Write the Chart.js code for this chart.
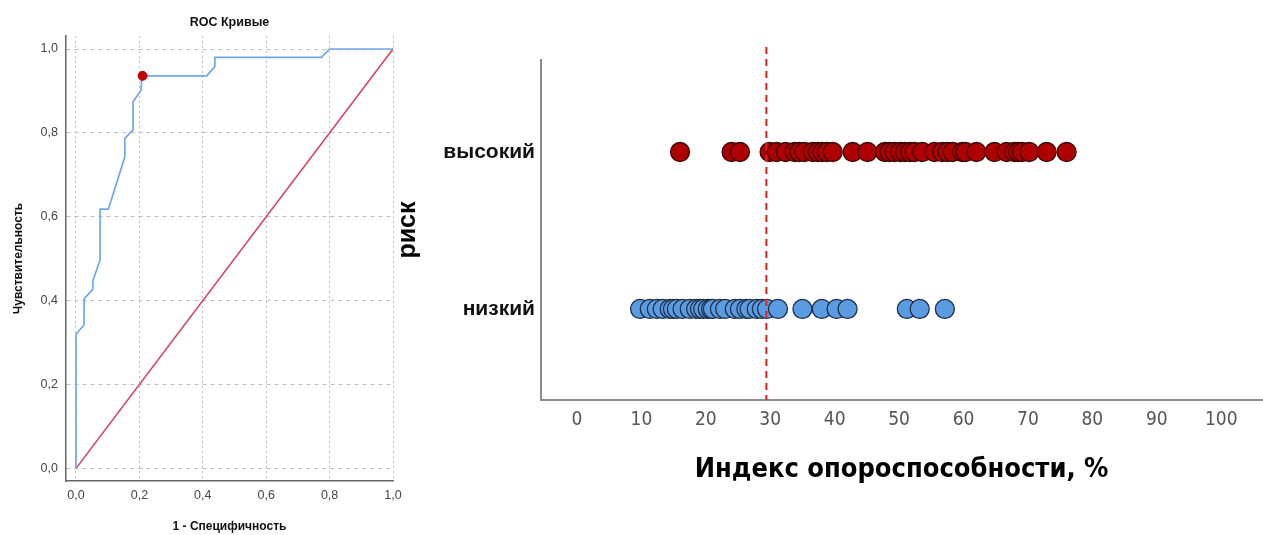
<!DOCTYPE html>
<html lang="ru">
<head>
<meta charset="utf-8">
<title>ROC и индекс опороспособности</title>
<script src="https://cdn.jsdelivr.net/npm/chart.js@4.4.1/dist/chart.umd.min.js"></script>
<style>
  html, body { margin: 0; padding: 0; background: #fff; }
  #wrap { position: relative; width: 1263px; height: 535px; overflow: hidden; }
  #rocBox { position: absolute; left: 0; top: 0; width: 410px; height: 535px; }
  #dotBox { position: absolute; left: 385px; top: 0; width: 888px; height: 535px; }
</style>
</head>
<body>
<div id="wrap">
  <div id="rocBox"><canvas id="rocChart"></canvas></div>
  <div id="dotBox"><canvas id="dotChart"></canvas></div>
</div>
<script>
// ---------- ROC data ----------
const ROC_FPR = [0, 0, 0.025, 0.026, 0.053, 0.053, 0.076, 0.076, 0.102, 0.128, 0.154, 0.154, 0.18, 0.18, 0.205, 0.208, 0.412, 0.438, 0.438, 0.774, 0.80, 1.0];
const ROC_TPR = [0, 0.320, 0.342, 0.405, 0.427, 0.447, 0.497, 0.618, 0.618, 0.680, 0.743, 0.787, 0.807, 0.874, 0.902, 0.936, 0.936, 0.958, 0.980, 0.980, 1.0, 1.0];
const DIAG_X = [0, 1];
const DIAG_Y = [0, 1];
const CUT_FPR = [0.21];
const CUT_TPR = [0.936];
const ROC_TICKS = [0, 0.2, 0.4, 0.6, 0.8, 1.0];

// ---------- dot plot data ----------
const RISK_LABELS = ["низкий", "высокий"];   // y = 1, y = 2
const HIGH_RISK = [16.0, 24.0, 25.3, 29.9, 31.0, 32.4, 33.8, 34.5, 35.3, 36.6, 37.4, 38.1, 38.8, 39.7,
  42.8, 45.1, 47.8, 48.5, 49.3, 50.2, 50.9, 51.7, 52.4, 53.6, 55.5, 56.7, 57.5, 58.3, 59.8, 60.3,
  62.0, 64.8, 66.7, 67.9, 68.5, 69.1, 70.2, 72.9, 76.0];
const LOW_RISK = [9.8, 11.3, 12.4, 13.3, 14.4, 14.9, 15.5, 16.4, 17.5, 18.5, 19.1, 19.6, 20.3, 20.8,
  21.1, 22.2, 23.0, 24.5, 25.3, 26.3, 26.8, 27.9, 28.7, 29.5, 31.2, 35.0, 38.0, 40.3, 42.0,
  51.2, 53.2, 57.1];
const X_TICKS = [0, 10, 20, 30, 40, 50, 60, 70, 80, 90, 100];
const CUTOFF = 29.4;

const SANS = "'Liberation Sans', Arial, sans-serif";
const NARROW = "'Liberation Sans Narrow', 'DejaVu Sans Condensed', 'Liberation Sans', sans-serif";
const comma = (v) => Number(v).toFixed(1).replace(".", ",");

// ---------- left: ROC curve ----------
new Chart(document.getElementById("rocChart"), {
  type: "scatter",
  data: {
    datasets: [
      { label: "cut", data: CUT_FPR.map((x, i) => ({ x, y: CUT_TPR[i] })),
        pointRadius: 4.5, pointBackgroundColor: "#C00000", pointBorderColor: "#C00000" },
      { label: "ROC", data: ROC_FPR.map((x, i) => ({ x, y: ROC_TPR[i] })),
        showLine: true, pointRadius: 0, borderColor: "#6FA8E6", borderWidth: 1.7, tension: 0 },
      { label: "diag", data: DIAG_X.map((x, i) => ({ x, y: DIAG_Y[i] })),
        showLine: true, pointRadius: 0, borderColor: "#E0385C", borderWidth: 1.5, tension: 0 },
    ]
  },
  options: {
    responsive: true, maintainAspectRatio: false, animation: false,
    layout: { padding: { left: 0, right: 17, top: 0, bottom: 0 } },
    plugins: { legend: { display: false }, tooltip: { enabled: false } },
    scales: {
      x: {
        type: "linear", min: -0.0315, max: 1.0,
        afterBuildTicks: (s) => { s.ticks = ROC_TICKS.map(v => ({ value: v })); },
        afterFit: (s) => { s.height = 54; },
        grid: { color: "#bdbdbd", lineWidth: 1, drawTicks: false },
        border: { display: true, color: "#666", width: 1.5, dash: [2, 3] },
        ticks: { callback: comma, color: "#444", font: { family: SANS, size: 12.5 }, padding: 7, maxRotation: 0 },
        title: { display: true, text: "1 - Специфичность", color: "#111",
                 font: { family: SANS, size: 12, weight: "bold" }, padding: { top: 0, bottom: 1 } }
      },
      top: {
        type: "linear", position: "top", min: -0.0315, max: 1.0,
        afterFit: (s) => { s.height = 36; },
        grid: { display: false, drawTicks: false }, border: { display: false }, ticks: { display: false },
        title: { display: true, text: "ROC Кривые", color: "#111",
                 font: { family: SANS, size: 12.5, weight: "bold" }, padding: { top: 15, bottom: 0 } }
      },
      y: {
        type: "linear", min: -0.030, max: 1.031,
        afterBuildTicks: (s) => { s.ticks = ROC_TICKS.map(v => ({ value: v })); },
        afterFit: (s) => { s.width = 66; },
        grid: { color: "#bdbdbd", lineWidth: 1, drawTicks: false },
        border: { display: true, color: "#666", width: 1.5, dash: [4, 4] },
        ticks: { callback: comma, color: "#444", font: { family: SANS, size: 12.5 }, padding: 8 },
        title: { display: true, text: "Чувствительность", color: "#111",
                 font: { family: SANS, size: 12, weight: "bold" }, padding: { top: 11, bottom: 0 } }
      }
    }
  }
});

// ---------- right: dot plot ----------
const cutoffLine = {
  id: "cutoffLine",
  afterDatasetsDraw(chart) {
    const { ctx, chartArea, scales: { x } } = chart;
    const px = x.getPixelForValue(CUTOFF);
    ctx.save();
    ctx.strokeStyle = "#E8201C";
    ctx.lineWidth = 2;
    ctx.setLineDash([7, 5]);
    ctx.beginPath();
    ctx.moveTo(px, chartArea.top - 13);
    ctx.lineTo(px, chartArea.bottom);
    ctx.stroke();
    ctx.restore();
  }
};

new Chart(document.getElementById("dotChart"), {
  type: "scatter",
  data: {
    datasets: [
      { label: "высокий", data: HIGH_RISK.map(v => ({ x: v, y: 2 })),
        pointRadius: 9.5, pointBackgroundColor: "#AE0000", pointBorderColor: "#3a0a0a", pointBorderWidth: 1.3 },
      { label: "низкий", data: LOW_RISK.map(v => ({ x: v, y: 1 })),
        pointRadius: 9.5, pointBackgroundColor: "#5A9BE2", pointBorderColor: "#1f2f45", pointBorderWidth: 1.3 },
    ]
  },
  options: {
    responsive: true, maintainAspectRatio: false, animation: false,
    layout: { padding: { left: 0, right: 0, top: 60, bottom: 0 } },
    plugins: { legend: { display: false }, tooltip: { enabled: false } },
    scales: {
      x: {
        type: "linear", min: -5.58, max: 106.36,
        afterBuildTicks: (s) => { s.ticks = X_TICKS.map(v => ({ value: v })); },
        afterFit: (s) => { s.height = 135; },
        grid: { display: false, drawTicks: false },
        border: { display: true, color: "#8c8c8c", width: 2 },
        ticks: { color: "#555", font: { family: NARROW, size: 19 }, padding: 9, autoSkip: false, maxRotation: 0 },
        title: { display: true, text: "Индекс опороспособности, %", color: "#000",
                 font: { family: NARROW, size: 27, weight: "bold" }, padding: { top: 0, bottom: 49 } }
      },
      y: {
        type: "linear", min: 0.42, max: 2.586,
        afterBuildTicks: (s) => { s.ticks = [1, 2].map(v => ({ value: v })); },
        afterFit: (s) => { s.width = 156; },
        grid: { display: false, drawTicks: false },
        border: { display: true, color: "#8c8c8c", width: 2 },
        ticks: { callback: (v) => RISK_LABELS[v - 1], color: "#111",
                 font: { family: SANS, size: 21, weight: "bold" }, padding: 6 },
        title: { display: true, text: "риск", color: "#000",
                 font: { family: SANS, size: 25, weight: "bold" }, padding: { top: 8, bottom: 0 } }
      }
    }
  },
  plugins: [cutoffLine]
});
</script>
</body>
</html>
